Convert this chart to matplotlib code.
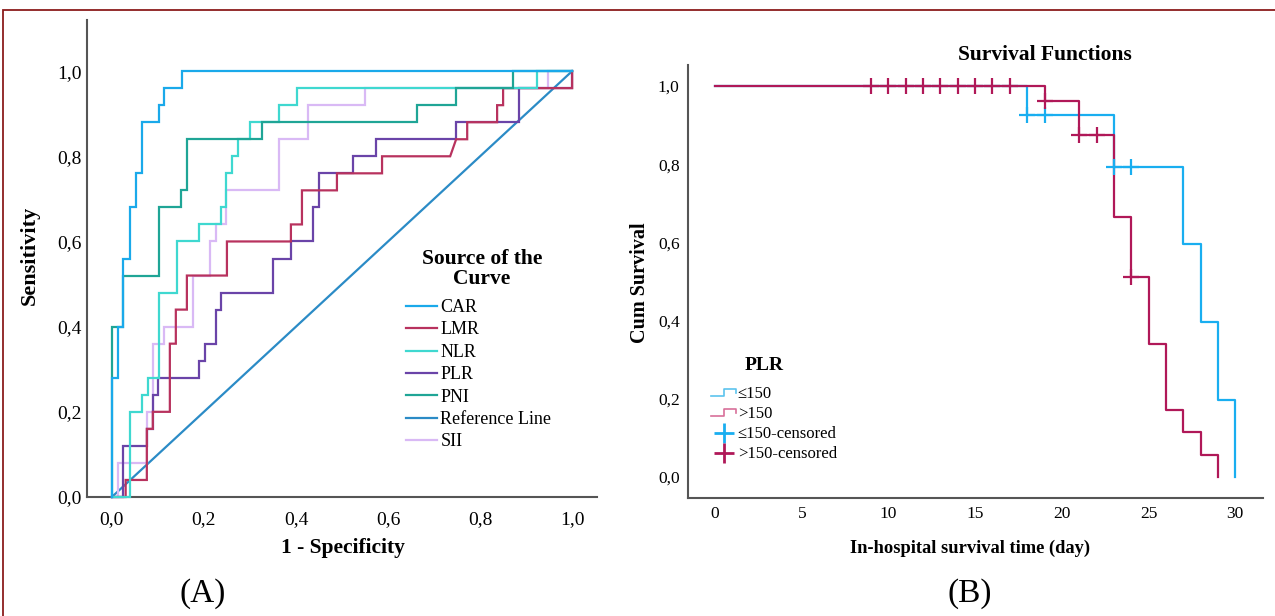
import matplotlib
matplotlib.use("Agg")
import matplotlib.pyplot as plt
from matplotlib.lines import Line2D
from matplotlib.patches import Rectangle
from matplotlib.legend_handler import HandlerBase

plt.rcParams['font.family'] = ['Liberation Serif', 'DejaVu Serif']

# ---------------- Data: ROC curves (A) ----------------
car_fpr = [0, 0, 0.013, 0.013, 0.024, 0.024, 0.039, 0.039, 0.052, 0.052, 0.065, 0.065,
           0.102, 0.102, 0.113, 0.113, 0.152, 0.152, 1.0]
car_sens = [0, 0.28, 0.28, 0.40, 0.40, 0.56, 0.56, 0.68, 0.68, 0.76, 0.76, 0.88,
            0.88, 0.92, 0.92, 0.96, 0.96, 1.0, 1.0]

lmr_fpr = [0, 0.03, 0.03, 0.076, 0.076, 0.089, 0.089, 0.126, 0.126, 0.139, 0.139, 0.163,
           0.163, 0.25, 0.25, 0.389, 0.389, 0.413, 0.413, 0.489, 0.489, 0.587, 0.587,
           0.735, 0.748, 0.772, 0.772, 0.837, 0.837, 0.85, 0.85, 1.0, 1.0]
lmr_sens = [0, 0, 0.04, 0.04, 0.16, 0.16, 0.20, 0.20, 0.36, 0.36, 0.44, 0.44,
            0.52, 0.52, 0.60, 0.60, 0.64, 0.64, 0.72, 0.72, 0.76, 0.76, 0.80,
            0.80, 0.84, 0.84, 0.88, 0.88, 0.92, 0.92, 0.96, 0.96, 1.0]

nlr_fpr = [0, 0.039, 0.039, 0.065, 0.065, 0.078, 0.078, 0.102, 0.102, 0.141, 0.141,
           0.189, 0.189, 0.238, 0.238, 0.249, 0.249, 0.262, 0.262, 0.274, 0.274,
           0.300, 0.300, 0.363, 0.363, 0.402, 0.402, 0.924, 0.924, 1.0]
nlr_sens = [0, 0, 0.20, 0.20, 0.24, 0.24, 0.28, 0.28, 0.48, 0.48, 0.60,
            0.60, 0.64, 0.64, 0.68, 0.68, 0.76, 0.76, 0.80, 0.80, 0.84,
            0.84, 0.88, 0.88, 0.92, 0.92, 0.96, 0.96, 1.0, 1.0]

plr_fpr = [0, 0.024, 0.024, 0.076, 0.076, 0.089, 0.089, 0.100, 0.100, 0.189, 0.189,
           0.202, 0.202, 0.226, 0.226, 0.238, 0.238, 0.350, 0.350, 0.389, 0.389,
           0.437, 0.437, 0.450, 0.450, 0.524, 0.524, 0.574, 0.574, 0.748, 0.748,
           0.885, 0.885, 1.0, 1.0]
plr_sens = [0, 0, 0.12, 0.12, 0.16, 0.16, 0.24, 0.24, 0.28, 0.28, 0.32,
            0.32, 0.36, 0.36, 0.44, 0.44, 0.48, 0.48, 0.56, 0.56, 0.60,
            0.60, 0.68, 0.68, 0.76, 0.76, 0.80, 0.80, 0.84, 0.84, 0.88,
            0.88, 0.96, 0.96, 1.0]

pni_fpr = [0, 0, 0.024, 0.024, 0.102, 0.102, 0.150, 0.150, 0.163, 0.163, 0.326, 0.326,
           0.663, 0.663, 0.748, 0.748, 0.872, 0.872, 1.0]
pni_sens = [0, 0.40, 0.40, 0.52, 0.52, 0.68, 0.68, 0.72, 0.72, 0.84, 0.84, 0.88,
            0.88, 0.92, 0.92, 0.96, 0.96, 1.0, 1.0]

sii_fpr = [0, 0.013, 0.013, 0.076, 0.076, 0.089, 0.089, 0.113, 0.113, 0.176, 0.176,
           0.213, 0.213, 0.226, 0.226, 0.249, 0.249, 0.363, 0.363, 0.426, 0.426,
           0.55, 0.55, 0.948, 0.948, 1.0]
sii_sens = [0, 0, 0.08, 0.08, 0.20, 0.20, 0.36, 0.36, 0.40, 0.40, 0.52,
            0.52, 0.60, 0.60, 0.64, 0.64, 0.72, 0.72, 0.84, 0.84, 0.92,
            0.92, 0.96, 0.96, 1.0, 1.0]

ref_fpr = [0, 1]
ref_sens = [0, 1]

roc_names = ["CAR", "LMR", "NLR", "PLR", "PNI", "Reference Line", "SII"]
roc_colors = ["#1aa9ea", "#b8325e", "#3fd8d0", "#6a44a8", "#1fa596", "#2b8bc6", "#d9b9f5"]

roc_ticks = [0.0, 0.2, 0.4, 0.6, 0.8, 1.0]
roc_ticklabels = ["0,0", "0,2", "0,4", "0,6", "0,8", "1,0"]

# ---------------- Data: Kaplan-Meier (B) ----------------
low_time = [0, 18, 23, 27, 28, 29, 30]
low_surv = [1.0, 0.926, 0.794, 0.595, 0.397, 0.198, 0.0]
low_cens_time = [18, 19, 23, 24]
low_cens_surv = [0.926, 0.926, 0.794, 0.794]

high_time = [0, 19, 21, 23, 24, 25, 26, 27, 28, 29]
high_surv = [1.0, 0.962, 0.874, 0.666, 0.511, 0.341, 0.170, 0.114, 0.057, 0.0]
high_cens_time = [9, 10, 11, 12, 13, 14, 15, 16, 17, 19, 21, 22, 24]
high_cens_surv = [1.0, 1.0, 1.0, 1.0, 1.0, 1.0, 1.0, 1.0, 1.0, 0.962, 0.874, 0.874, 0.511]

km_xticks = [0, 5, 10, 15, 20, 25, 30]
km_yticks = [0.0, 0.2, 0.4, 0.6, 0.8, 1.0]
km_yticklabels = ["0,0", "0,2", "0,4", "0,6", "0,8", "1,0"]
km_labels = ["\u2264150", ">150", "\u2264150-censored", ">150-censored"]
km_colors = ["#19aef0", "#b01858"]
km_legend_colors = ["#5cc3ee", "#d8709a"]

# ---------------- Figure ----------------
W, H = 1275, 616
fig = plt.figure(figsize=(W / 100, H / 100), dpi=100)

# red frame
fig.add_artist(Rectangle((3 / W, -0.05), 1.1, 1 - 10 / H + 0.05, transform=fig.transFigure,
                         fill=False, edgecolor="#8b1c1c", linewidth=1.3))

spine_col = "#555555"

# ---- Panel A ----
axA = fig.add_axes([87 / W, (H - 497) / H, 510 / W, 477 / H])
roc_x = [car_fpr, lmr_fpr, nlr_fpr, plr_fpr, pni_fpr, ref_fpr, sii_fpr]
roc_y = [car_sens, lmr_sens, nlr_sens, plr_sens, pni_sens, ref_sens, sii_sens]
order = [5, 6, 3, 1, 2, 4, 0]
handles = {}
for i in order:
    ln, = axA.plot(roc_x[i], roc_y[i], color=roc_colors[i], lw=1.6, clip_on=False,
                   solid_joinstyle="miter", zorder=3 + (0 if i == 5 else 1))
    handles[i] = ln
axA.set_xlim(-0.054, 1.054)
axA.set_ylim(0, 1.12)
for s in ["top", "right"]:
    axA.spines[s].set_visible(False)
for s in ["left", "bottom"]:
    axA.spines[s].set_color(spine_col)
    axA.spines[s].set_linewidth(1.5)
axA.set_xticks(roc_ticks)
axA.set_xticklabels(roc_ticklabels)
axA.set_yticks(roc_ticks)
axA.set_yticklabels(roc_ticklabels)
axA.tick_params(axis="both", length=0, labelsize=14)
axA.tick_params(axis="x", pad=10)
axA.tick_params(axis="y", pad=4)

fig.text(482 / W, 1 - 269 / H, "Source of the\nCurve", ha="center", va="center",
         multialignment="center", fontsize=15.5, fontweight="bold", linespacing=1.05)
axA.legend([handles[i] for i in range(7)], roc_names, loc="upper left",
           bbox_to_anchor=(406 / W, 1 - 299 / H), bbox_transform=fig.transFigure,
           frameon=False, fontsize=13, handlelength=1.7, handletextpad=0.2,
           labelspacing=0.3, borderpad=0, borderaxespad=0)

fig.text(30 / W, 1 - 255 / H, "Sensitivity", rotation=90, ha="center", va="center",
         fontsize=16, fontweight="bold")
fig.text(343 / W, 1 - 548 / H, "1 - Specificity", ha="center", va="center",
         fontsize=15.5, fontweight="bold")
fig.text(203 / W, 1 - 594 / H, "(A)", ha="center", va="center", fontsize=24)

# ---- Panel B ----
axB = fig.add_axes([688 / W, (H - 498) / H, 575 / W, 433 / H])
axB.step(low_time, low_surv, where="post", color=km_colors[0], lw=1.6, zorder=3)
axB.step(high_time, high_surv, where="post", color=km_colors[1], lw=1.6, zorder=4)
axB.plot(low_cens_time, low_cens_surv, ls="none", marker="+", color=km_colors[0],
         markersize=11, mew=1.6, zorder=5)
axB.plot(high_cens_time, high_cens_surv, ls="none", marker="+", color=km_colors[1],
         markersize=11, mew=1.6, zorder=6)
axB.set_xlim(-1.56, 31.6)
axB.set_ylim(-0.054, 1.054)
for s in ["top", "right"]:
    axB.spines[s].set_visible(False)
for s in ["left", "bottom"]:
    axB.spines[s].set_color(spine_col)
    axB.spines[s].set_linewidth(1.5)
axB.set_xticks(km_xticks)
axB.set_xticklabels([str(t) for t in km_xticks])
axB.set_yticks(km_yticks)
axB.set_yticklabels(km_yticklabels)
axB.tick_params(axis="both", length=0, labelsize=12.5)
axB.tick_params(axis="x", pad=6)
axB.tick_params(axis="y", pad=6)


class StepHandler(HandlerBase):
    def create_artists(self, legend, orig_handle, xdescent, ydescent, width, height,
                       fontsize, trans):
        x0 = -xdescent
        y0 = -ydescent
        xs = [x0, x0 + 0.5 * width, x0 + 0.5 * width, x0 + width, x0 + width]
        ys = [y0 + 0.2 * height, y0 + 0.2 * height, y0 + 0.8 * height,
              y0 + 0.8 * height, y0 + 0.4 * height]
        ln = Line2D(xs, ys, color=orig_handle.get_color(), lw=1.2)
        ln.set_transform(trans)
        return [ln]


h_low = Line2D([], [], color=km_legend_colors[0])
h_high = Line2D([], [], color=km_legend_colors[1])
h_lowc = Line2D([], [], ls="none", marker="+", color=km_colors[0], markersize=15, mew=2)
h_highc = Line2D([], [], ls="none", marker="+", color=km_colors[1], markersize=15, mew=2)
fig.text(764 / W, 1 - 365 / H, "PLR", ha="center", va="center", fontsize=14,
         fontweight="bold")
axB.legend([h_low, h_high, h_lowc, h_highc], km_labels,
           loc="upper left", bbox_to_anchor=(711 / W, 1 - 386 / H),
           bbox_transform=fig.transFigure, frameon=False, fontsize=12,
           handlelength=1.5, handletextpad=0.1, labelspacing=0.25, borderpad=0,
           borderaxespad=0,
           handler_map={h_low: StepHandler(), h_high: StepHandler()})

fig.text(1045 / W, 1 - 55 / H, "Survival Functions", ha="center", va="center",
         fontsize=15.5, fontweight="bold")
fig.text(640 / W, 1 - 283 / H, "Cum Survival", rotation=90, ha="center", va="center",
         fontsize=14.5, fontweight="bold")
fig.text(970 / W, 1 - 548 / H, "In-hospital survival time (day)", ha="center", va="center",
         fontsize=13.3, fontweight="bold")
fig.text(970 / W, 1 - 594 / H, "(B)", ha="center", va="center", fontsize=24)

fig.savefig("out.png", dpi=100)
